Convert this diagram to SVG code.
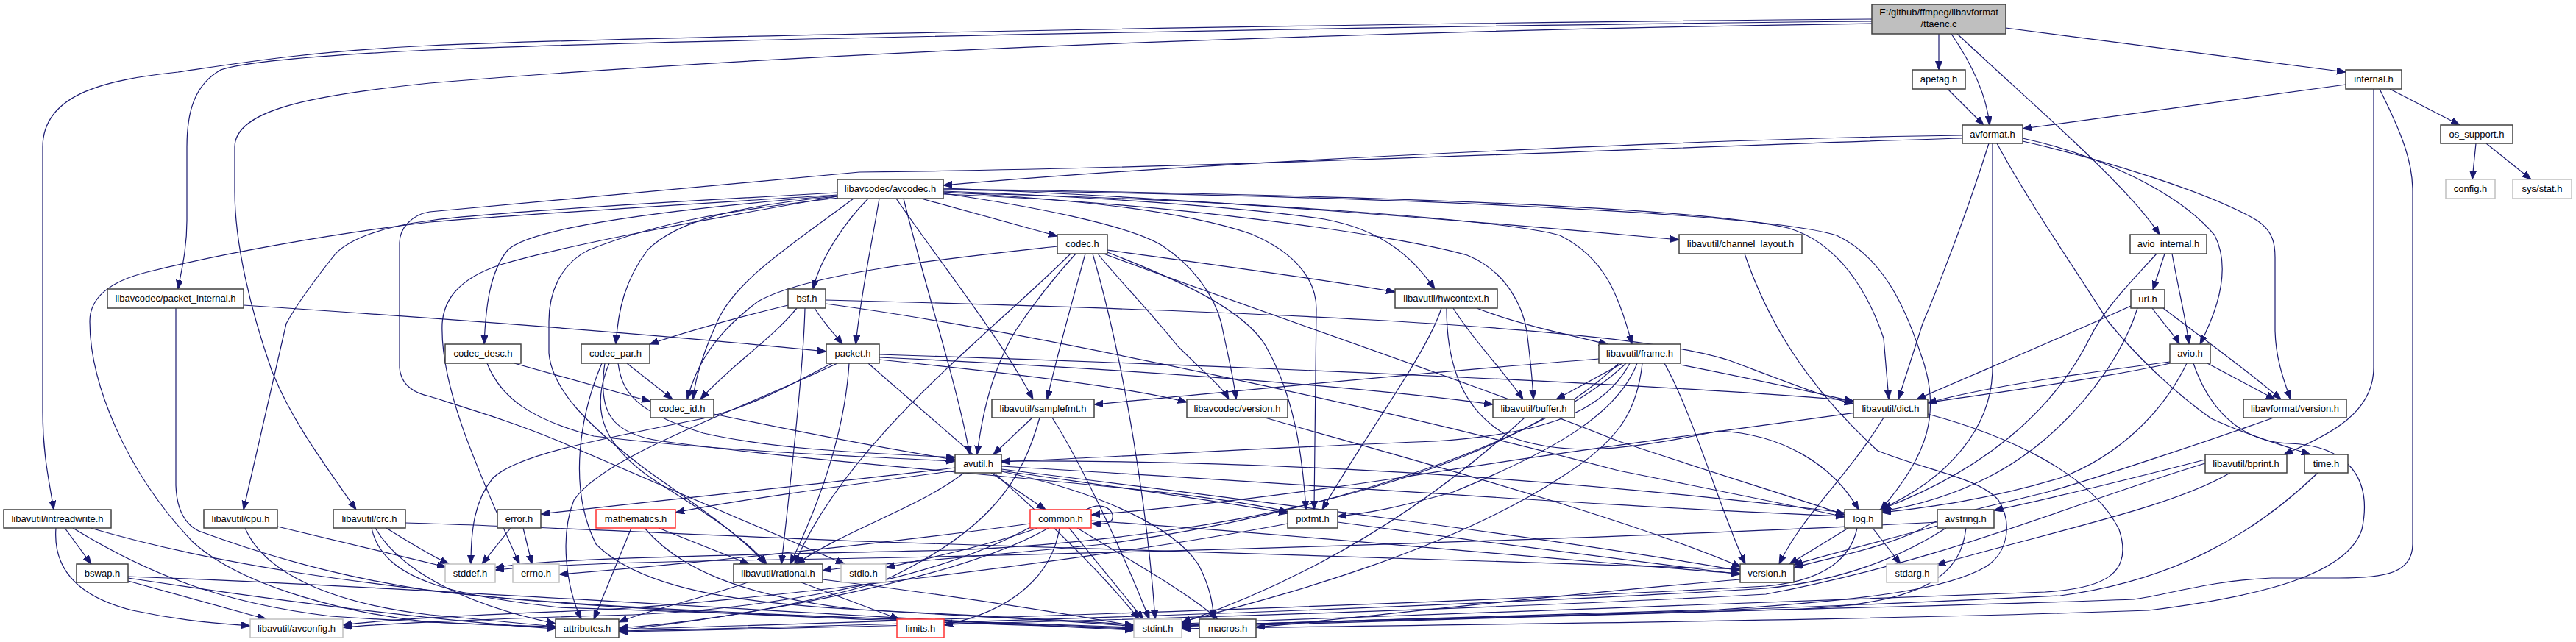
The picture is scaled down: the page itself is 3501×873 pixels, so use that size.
<svg xmlns="http://www.w3.org/2000/svg" width="3501" height="873" viewBox="0 0 3501 873">
<style>
.n rect{fill:#fff;stroke:#404040;stroke-width:1.5}
.g rect{stroke:#c0c0c0}
.r rect{stroke:#ff3030}
.rt rect{fill:#bfbfbf}
text{font-family:"Liberation Sans",Arial,sans-serif;font-size:13px;fill:#000;text-anchor:middle}
.e path{fill:none;stroke:#191970;stroke-width:1.2;marker-end:url(#a)}
</style>
<defs>
<marker id="a" markerWidth="13" markerHeight="10" refX="12" refY="4.5" orient="auto" markerUnits="userSpaceOnUse"><path d="M0,0 L12,4.5 L0,9 Z" fill="#191970" stroke="#191970" stroke-width="1"/></marker>
</defs>
<rect width="3501" height="873" fill="#fff"/>
<g id="edges" class="e">
<path d="M2635,46 L2635,95"/>
<path d="M2652,46 C2682,90 2700,130 2704,170"/>
<path d="M2660,46 C2760,140 2890,250 2935,319"/>
<path d="M2726,38 L3188,98"/>
<path d="M2544,26 C2000,30 900,48 584,62 C420,70 330,85 242,98 C150,108 58,125 58,200 L58,560 C58,620 68,660 73,693"/>
<path d="M2544,29 C2000,34 900,54 584,68 C420,76 330,85 300,95 C265,115 254,150 254,200 L254,300 C254,340 246,370 242,393"/>
<path d="M2544,32 C2000,40 1200,62 584,113 C420,130 319,150 319,200 L319,260 C319,330 340,420 369,503 C395,570 440,630 484,693"/>
<path d="M2647,121 L2696,170"/>
<path d="M3188,115 L2749,175"/>
<path d="M3248,121 L3343,170"/>
<path d="M3226,121 L3226,500 C3226,560 3170,590 3104,618"/>
<path d="M3234,121 C3265,183 3279,220 3279,260 L3279,740 C3279,780 3240,786 3179,786 L3087,786 C3000,790 2950,808 2900,815 C2500,830 1800,842 1606,852"/>
<path d="M3365,195 L3360,244"/>
<path d="M3379,195 L3440,244"/>
<path d="M2667,184 C2400,187 1700,215 1282,252"/>
<path d="M2667,188 C2300,198 1700,228 1168,234 L584,288 C560,292 543,310 543,330 L543,500 C545,525 565,535 584,539 C650,560 700,575 760,600 L1148,767"/>
<path d="M2703,195 C2670,300 2630,400 2613,440 L2580,543"/>
<path d="M2708,195 L2708,500 C2708,580 2650,650 2555,693"/>
<path d="M2714,195 C2760,280 2830,380 2865,437 C2900,480 2950,530 3005,569 C3050,590 3100,605 3140,618"/>
<path d="M2749,188 C2850,210 2960,260 3010,320 C3030,360 3020,410 2990,468"/>
<path d="M2749,192 C2850,215 3000,260 3068,300 C3090,315 3092,333 3092,350 L3092,450 C3093,490 3105,520 3113,543"/>
<path d="M1252,270 L1437,321"/>
<path d="M1180,270 C1150,300 1115,350 1105,393"/>
<path d="M1138,262 C900,275 650,290 584,300 C520,308 475,325 456,345 C420,390 400,420 389,440 L331,693"/>
<path d="M1138,265 C900,280 700,292 584,302 C450,318 300,345 200,370 C140,385 122,410 122,437 C122,520 170,640 261,736 C330,800 480,835 584,846 L755,853"/>
<path d="M1138,267 C950,300 770,333 680,360 C620,380 603,410 601,440 C598,520 640,620 706,767"/>
<path d="M1138,266 C900,285 720,310 690,340 C665,370 660,420 658,468"/>
<path d="M1138,267 C1000,280 920,300 880,340 C850,380 840,420 837,468"/>
<path d="M1140,269 C1000,285 900,300 800,340 C760,360 746,400 746,437 L746,480 C750,530 800,580 880,640 C950,690 1010,730 1040,767"/>
<path d="M1160,270 C1080,330 1000,380 975,437 C960,470 945,510 942,543"/>
<path d="M1195,270 C1185,330 1170,400 1163,468"/>
<path d="M1218,270 C1280,360 1360,460 1404,543"/>
<path d="M1228,270 C1260,400 1300,520 1318,618"/>
<path d="M1282,256 C1600,268 2000,300 2282,326"/>
<path d="M1282,260 C1500,268 1700,283 1800,298 C1880,313 1920,350 1950,393"/>
<path d="M1282,262 C1700,272 2050,300 2120,320 C2180,350 2200,400 2218,468"/>
<path d="M1282,264 C1600,276 1900,320 1994,347 C2050,370 2070,420 2075,450 C2080,490 2083,520 2084,543"/>
<path d="M1282,257 C1800,264 2300,280 2430,310 C2500,330 2540,400 2560,460 L2567,543"/>
<path d="M1282,258 C1900,267 2400,290 2496,320 C2560,350 2590,420 2610,480 C2640,560 2620,620 2556,693"/>
<path d="M1282,261 C1450,271 1600,284 1700,318 C1760,343 1789,380 1789,420 L1786,693"/>
<path d="M1282,263 C1400,280 1530,305 1578,333 C1620,360 1650,400 1660,440 C1668,480 1676,510 1680,543"/>
<path d="M1505,340 C1650,360 1800,380 1896,397"/>
<path d="M1437,335 C1300,350 1100,370 1030,410 C990,440 950,480 934,543"/>
<path d="M1462,345 C1430,380 1400,420 1380,450 C1350,500 1335,560 1328,618"/>
<path d="M1475,345 C1460,400 1440,470 1423,543"/>
<path d="M1492,345 C1520,380 1560,420 1600,470 C1640,510 1660,525 1670,543"/>
<path d="M1505,343 C1600,380 1690,420 1720,470 C1760,540 1770,620 1775,693"/>
<path d="M1500,345 C1700,420 2000,520 2200,600 C2350,650 2450,680 2507,700"/>
<path d="M1455,345 C1350,450 1150,600 1080,767"/>
<path d="M1485,345 C1530,500 1560,700 1570,842"/>
<path d="M1071,415 C1030,425 950,445 883,468"/>
<path d="M1083,419 C1050,460 990,500 952,543"/>
<path d="M1107,419 C1120,440 1135,455 1145,468"/>
<path d="M1122,408 C1600,420 2200,440 2350,490 C2430,520 2480,540 2519,549"/>
<path d="M1122,413 C1400,450 1900,560 2200,640 C2350,670 2450,690 2507,703"/>
<path d="M1094,419 C1092,500 1075,650 1062,767"/>
<path d="M331,415 C600,433 900,455 1123,478"/>
<path d="M239,419 L239,660 C240,690 250,712 270,722 C400,770 500,790 584,803 C800,830 1300,845 1541,854"/>
<path d="M699,494 L884,546"/>
<path d="M662,494 C680,540 720,570 807,593 C950,610 1100,618 1298,627"/>
<path d="M852,494 L914,543"/>
<path d="M840,494 C845,530 860,560 956,589 C1050,610 1150,615 1298,622"/>
<path d="M828,494 C800,560 820,610 900,660 C980,710 1020,740 1042,767"/>
<path d="M822,494 C812,560 830,590 900,600 C1200,640 1600,660 1750,696"/>
<path d="M818,494 C790,560 770,660 810,740 C870,800 1000,820 1168,829 C1350,838 1480,845 1541,850"/>
<path d="M970,563 C1100,590 1200,610 1298,625"/>
<path d="M1131,494 C1080,520 1030,550 956,569 C800,600 700,620 670,650 C645,680 640,720 640,767"/>
<path d="M1138,494 C1000,560 820,620 780,680 C760,730 770,800 790,842"/>
<path d="M1154,494 C1150,560 1130,650 1074,767"/>
<path d="M1195,486 C1500,500 1850,525 2029,550"/>
<path d="M1195,482 C1700,498 2300,525 2519,545"/>
<path d="M1195,489 C1400,510 1550,530 1613,547"/>
<path d="M1180,494 C1300,600 1450,720 1548,842"/>
<path d="M2205,494 L2115,543"/>
<path d="M2284,496 C2380,515 2450,530 2519,546"/>
<path d="M2173,488 C1950,505 1700,530 1487,550"/>
<path d="M2225,494 C2200,560 2120,610 1975,669 C1900,690 1860,698 1818,702"/>
<path d="M2215,494 C2180,560 2100,590 1950,600 C1700,610 1500,622 1361,628"/>
<path d="M2210,494 C2100,600 1800,700 1500,740 C1300,760 1150,770 1118,776"/>
<path d="M2200,494 C2050,640 1700,730 1300,748 C1000,755 750,758 673,772"/>
<path d="M2232,494 C2225,560 2200,600 2120,650 C1950,760 1700,820 1606,846"/>
<path d="M2262,494 C2300,560 2340,700 2372,767"/>
<path d="M1975,419 C2000,460 2040,500 2070,543"/>
<path d="M2007,419 C2060,440 2130,455 2185,468"/>
<path d="M1959,419 C1940,480 1850,600 1797,693"/>
<path d="M1966,419 C1966,500 1990,560 2050,593 C2120,620 2200,615 2336,586 C2420,590 2490,630 2526,693"/>
<path d="M1403,568 L1350,618"/>
<path d="M1430,568 C1470,630 1530,760 1562,842"/>
<path d="M1413,568 C1390,650 1350,720 1200,790 C1050,835 900,850 841,854"/>
<path d="M1719,568 C1900,620 2200,700 2366,771"/>
<path d="M2072,568 C1950,680 1800,780 1606,847"/>
<path d="M2560,568 C2510,650 2450,700 2418,767"/>
<path d="M2620,563 C2720,590 2840,640 2880,720 C2900,780 2860,800 2780,805 C2500,815 1900,838 1606,848"/>
<path d="M3090,568 C3000,600 2850,650 2783,669 C2700,690 2640,700 2610,720 C2560,745 2480,760 2438,772"/>
<path d="M3000,494 L3092,543"/>
<path d="M2949,492 C2850,505 2700,525 2620,548"/>
<path d="M2949,494 C2800,530 2200,600 1900,650 C1700,680 1550,695 1483,700"/>
<path d="M2972,494 C2940,560 2880,620 2800,650 C2700,680 2620,690 2558,697"/>
<path d="M2981,494 C3000,550 3040,600 3110,603 C3190,605 3225,650 3210,720 C3190,780 3080,810 2920,830 C2500,845 1900,850 1606,855"/>
<path d="M2925,419 C2940,440 2955,455 2962,468"/>
<path d="M2940,419 C2980,450 3050,500 3100,543"/>
<path d="M2896,416 C2800,460 2680,510 2605,543"/>
<path d="M2905,419 C2880,500 2800,600 2700,650 C2640,680 2590,690 2558,695"/>
<path d="M2942,345 L2926,394"/>
<path d="M2952,345 C2962,400 2972,440 2975,468"/>
<path d="M2931,345 C2890,390 2860,420 2840,460 C2800,540 2720,630 2558,692"/>
<path d="M1347,643 L1421,693"/>
<path d="M1298,636 C1100,660 900,680 735,699"/>
<path d="M1298,640 C1150,660 1000,680 918,697"/>
<path d="M1310,643 C1250,690 1150,720 1082,767"/>
<path d="M1361,638 C1700,680 2100,730 2365,776"/>
<path d="M1361,641 C1500,670 1600,720 1630,770 C1645,800 1648,820 1650,842"/>
<path d="M1361,634 C1800,660 2200,690 2507,702"/>
<path d="M1361,640 C1500,660 1650,680 1750,698"/>
<path d="M2507,697 C2200,660 1800,625 1361,627"/>
<path d="M2545,718 L2583,767"/>
<path d="M2512,718 L2432,767"/>
<path d="M2524,718 C2515,760 2480,790 2400,797 C2000,820 1200,845 841,856"/>
<path d="M1476,693 C1500,680 1515,695 1512,705 C1510,712 1500,713 1484,712"/>
<path d="M1440,718 C1430,780 1380,830 1283,850"/>
<path d="M1453,718 L1554,842"/>
<path d="M1464,718 C1550,770 1620,810 1655,842"/>
<path d="M1410,718 C1350,740 1260,760 1204,772"/>
<path d="M1400,712 C1200,740 900,770 760,781"/>
<path d="M1425,718 C1300,790 1000,840 841,857"/>
<path d="M1402,716 C1250,800 1000,830 860,836 C700,840 520,848 466,853"/>
<path d="M1483,708 C1800,730 2100,760 2365,780"/>
<path d="M694,718 L655,767"/>
<path d="M711,718 L723,767"/>
<path d="M858,718 L807,842"/>
<path d="M895,718 L1018,767"/>
<path d="M876,718 C920,770 1000,810 1168,829 C1350,840 1480,845 1541,852"/>
<path d="M1016,792 C950,815 880,830 841,846"/>
<path d="M1089,792 C1150,815 1190,830 1222,842"/>
<path d="M1118,788 C1300,810 1450,835 1541,851"/>
<path d="M1818,710 C2000,735 2200,760 2365,781"/>
<path d="M1750,712 C1500,760 1000,820 800,830 C600,838 500,845 466,850"/>
<path d="M2365,788 C2100,810 1850,840 1707,853"/>
<path d="M2633,715 C2560,735 2480,755 2438,768"/>
<path d="M2633,710 C2300,728 1500,755 1000,762 C850,765 750,768 673,775"/>
<path d="M2645,718 C2580,760 2500,790 2400,800 C1900,830 1200,850 841,858"/>
<path d="M2672,718 C2665,780 2620,820 2450,828 C2100,840 1800,848 1606,853"/>
<path d="M2997,625 C2900,650 2800,675 2710,694"/>
<path d="M3031,643 C2950,690 2800,720 2632,768"/>
<path d="M2997,630 C2800,690 2650,760 2400,808 C1900,835 1200,852 841,859"/>
<path d="M3150,643 C3060,730 2950,790 2800,810 C2400,830 1900,845 1606,850"/>
<path d="M2371,345 C2400,430 2450,520 2552,613 C2620,640 2690,650 2716,680 C2735,710 2730,750 2700,770 C2650,800 2550,815 2336,829 C2000,840 1750,848 1606,851"/>
<path d="M88,718 L124,767"/>
<path d="M76,718 C72,770 100,810 180,830 C250,845 300,848 340,851"/>
<path d="M99,718 C200,780 300,820 450,838 C600,848 700,851 755,852"/>
<path d="M123,718 C300,770 500,795 700,815 C1000,840 1400,850 1541,855"/>
<path d="M174,790 L362,842"/>
<path d="M174,786 C400,820 600,845 755,855"/>
<path d="M174,784 C500,795 1000,830 1541,857"/>
<path d="M377,716 C480,740 560,760 606,771"/>
<path d="M333,718 C360,780 450,820 584,836 C680,845 730,850 755,852"/>
<path d="M525,718 C560,740 585,755 610,767"/>
<path d="M510,718 C540,770 620,820 755,848"/>
<path d="M505,718 C520,790 620,810 760,826 C1100,840 1400,850 1541,853"/>
<path d="M551,711 C700,715 900,725 1168,736 C1700,755 2100,765 2365,774"/>
</g>
<g id="n_root" class="n rt"><rect x="2544" y="6" width="182" height="40"/><text x="2635" y="21">E:/github/ffmpeg/libavformat</text><text x="2635" y="37">/ttaenc.c</text></g>
<g id="n_apetag" class="n"><rect x="2599" y="95" width="72" height="26"/><text x="2635" y="112">apetag.h</text></g>
<g id="n_internal" class="n"><rect x="3188" y="95" width="76" height="26"/><text x="3226" y="112">internal.h</text></g>
<g id="n_avformat" class="n"><rect x="2667" y="170" width="82" height="25"/><text x="2708" y="187">avformat.h</text></g>
<g id="n_os_support" class="n"><rect x="3317" y="170" width="98" height="25"/><text x="3366" y="187">os_support.h</text></g>
<g id="n_avcodec" class="n"><rect x="1138" y="244" width="144" height="26"/><text x="1210" y="261">libavcodec/avcodec.h</text></g>
<g id="n_config" class="n g"><rect x="3324" y="244" width="67" height="26"/><text x="3357.5" y="261">config.h</text></g>
<g id="n_sysstat" class="n g"><rect x="3415" y="244" width="80" height="26"/><text x="3455" y="261">sys/stat.h</text></g>
<g id="n_codec" class="n"><rect x="1437" y="319" width="68" height="26"/><text x="1471" y="336">codec.h</text></g>
<g id="n_channel_layout" class="n"><rect x="2282" y="319" width="167" height="26"/><text x="2365.5" y="336">libavutil/channel_layout.h</text></g>
<g id="n_avio_internal" class="n"><rect x="2895" y="319" width="104" height="26"/><text x="2947" y="336">avio_internal.h</text></g>
<g id="n_packet_internal" class="n"><rect x="146" y="393" width="185" height="26"/><text x="238.5" y="410">libavcodec/packet_internal.h</text></g>
<g id="n_bsf" class="n"><rect x="1071" y="393" width="51" height="26"/><text x="1096.5" y="410">bsf.h</text></g>
<g id="n_hwcontext" class="n"><rect x="1896" y="393" width="139" height="26"/><text x="1965.5" y="410">libavutil/hwcontext.h</text></g>
<g id="n_url" class="n"><rect x="2896" y="394" width="46" height="25"/><text x="2919" y="411">url.h</text></g>
<g id="n_codec_desc" class="n"><rect x="605" y="468" width="103" height="26"/><text x="656.5" y="485">codec_desc.h</text></g>
<g id="n_codec_par" class="n"><rect x="790" y="468" width="93" height="26"/><text x="836.5" y="485">codec_par.h</text></g>
<g id="n_packet" class="n"><rect x="1123" y="468" width="72" height="26"/><text x="1159" y="485">packet.h</text></g>
<g id="n_frame" class="n"><rect x="2173" y="468" width="111" height="26"/><text x="2228.5" y="485">libavutil/frame.h</text></g>
<g id="n_avio" class="n"><rect x="2949" y="468" width="55" height="26"/><text x="2976.5" y="485">avio.h</text></g>
<g id="n_codec_id" class="n"><rect x="884" y="543" width="86" height="25"/><text x="927" y="560">codec_id.h</text></g>
<g id="n_samplefmt" class="n"><rect x="1348" y="543" width="139" height="25"/><text x="1417.5" y="560">libavutil/samplefmt.h</text></g>
<g id="n_lavc_version" class="n"><rect x="1613" y="543" width="137" height="25"/><text x="1681.5" y="560">libavcodec/version.h</text></g>
<g id="n_buffer" class="n"><rect x="2029" y="543" width="111" height="25"/><text x="2084.5" y="560">libavutil/buffer.h</text></g>
<g id="n_dict" class="n"><rect x="2519" y="543" width="101" height="25"/><text x="2569.5" y="560">libavutil/dict.h</text></g>
<g id="n_lavf_version" class="n"><rect x="3049" y="543" width="140" height="25"/><text x="3119" y="560">libavformat/version.h</text></g>
<g id="n_avutil" class="n"><rect x="1298" y="618" width="63" height="25"/><text x="1329.5" y="635">avutil.h</text></g>
<g id="n_bprint" class="n"><rect x="2997" y="618" width="111" height="25"/><text x="3052.5" y="635">libavutil/bprint.h</text></g>
<g id="n_time" class="n"><rect x="3132" y="618" width="59" height="25"/><text x="3161.5" y="635">time.h</text></g>
<g id="n_intreadwrite" class="n"><rect x="5" y="693" width="146" height="25"/><text x="78" y="710">libavutil/intreadwrite.h</text></g>
<g id="n_cpu" class="n"><rect x="277" y="693" width="100" height="25"/><text x="327" y="710">libavutil/cpu.h</text></g>
<g id="n_crc" class="n"><rect x="453" y="693" width="98" height="25"/><text x="502" y="710">libavutil/crc.h</text></g>
<g id="n_error" class="n"><rect x="676" y="693" width="59" height="25"/><text x="705.5" y="710">error.h</text></g>
<g id="n_mathematics" class="n r"><rect x="810" y="693" width="108" height="25"/><text x="864" y="710">mathematics.h</text></g>
<g id="n_common" class="n r"><rect x="1400" y="693" width="83" height="25"/><text x="1441.5" y="710">common.h</text></g>
<g id="n_pixfmt" class="n"><rect x="1750" y="693" width="68" height="25"/><text x="1784" y="710">pixfmt.h</text></g>
<g id="n_log" class="n"><rect x="2507" y="693" width="51" height="25"/><text x="2532.5" y="710">log.h</text></g>
<g id="n_avstring" class="n"><rect x="2633" y="693" width="77" height="25"/><text x="2671.5" y="710">avstring.h</text></g>
<g id="n_bswap" class="n"><rect x="104" y="767" width="70" height="25"/><text x="139" y="784">bswap.h</text></g>
<g id="n_stddef" class="n g"><rect x="605" y="767" width="68" height="25"/><text x="639" y="784">stddef.h</text></g>
<g id="n_errno" class="n g"><rect x="697" y="767" width="63" height="25"/><text x="728.5" y="784">errno.h</text></g>
<g id="n_rational" class="n"><rect x="997" y="767" width="121" height="25"/><text x="1057.5" y="784">libavutil/rational.h</text></g>
<g id="n_stdio" class="n g"><rect x="1143" y="767" width="61" height="25"/><text x="1173.5" y="784">stdio.h</text></g>
<g id="n_version" class="n"><rect x="2365" y="767" width="73" height="25"/><text x="2401.5" y="784">version.h</text></g>
<g id="n_stdarg" class="n g"><rect x="2564" y="767" width="70" height="25"/><text x="2599" y="784">stdarg.h</text></g>
<g id="n_avconfig" class="n g"><rect x="340" y="842" width="126" height="25"/><text x="403" y="859">libavutil/avconfig.h</text></g>
<g id="n_attributes" class="n"><rect x="755" y="842" width="86" height="25"/><text x="798" y="859">attributes.h</text></g>
<g id="n_limits" class="n r"><rect x="1219" y="842" width="64" height="25"/><text x="1251" y="859">limits.h</text></g>
<g id="n_stdint" class="n g"><rect x="1541" y="842" width="65" height="25"/><text x="1573.5" y="859">stdint.h</text></g>
<g id="n_macros" class="n"><rect x="1630" y="842" width="77" height="25"/><text x="1668.5" y="859">macros.h</text></g>
</svg>
